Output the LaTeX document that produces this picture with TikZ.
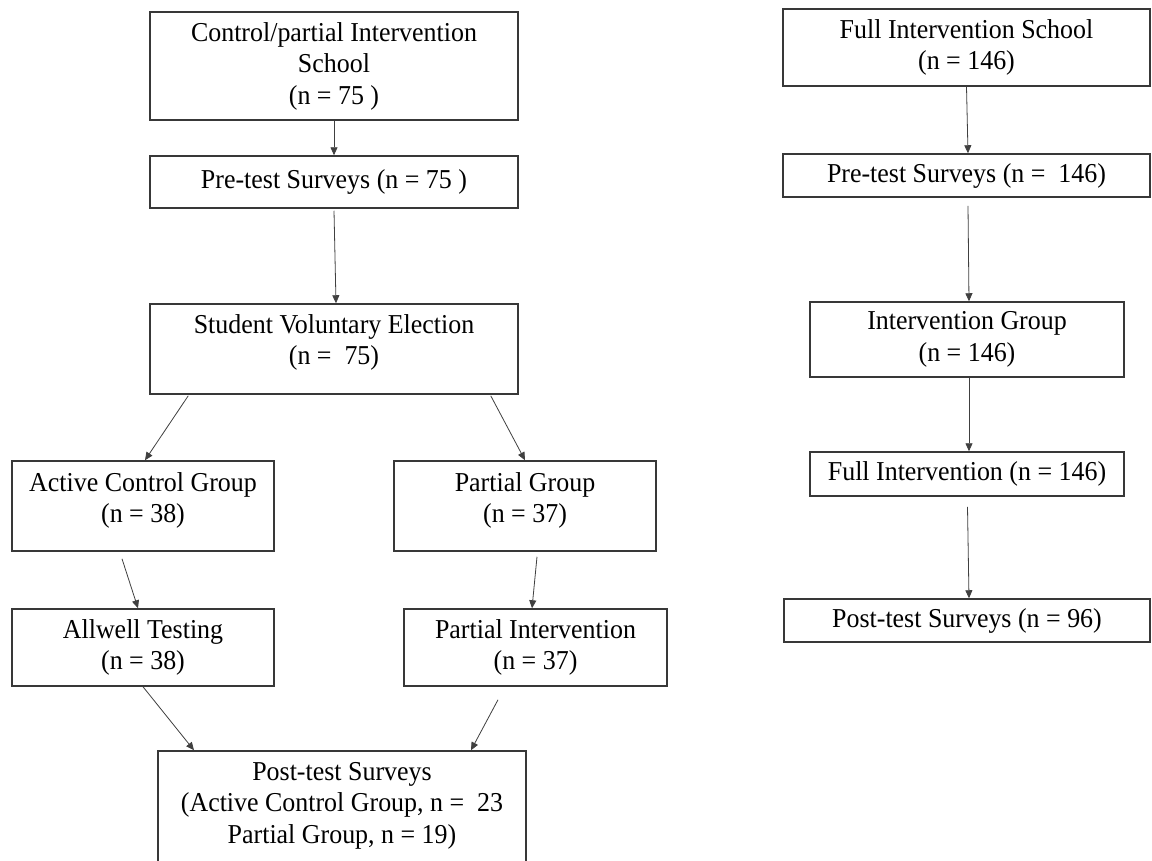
\documentclass[tikz,border=0pt]{standalone}
\usepackage{fontspec}
\setmainfont{Liberation Serif}[FakeStretch=0.95]
\usetikzlibrary{arrows.meta}

% extra depth under the last line pushes a text block upward in its box
\newcommand\dropdepth[1]{\rule[-#1]{0pt}{#1}}

\begin{document}
\begin{tikzpicture}[x=1pt,y=-1pt,
  box/.style={draw=black!78, line width=1.5pt, fill=white, align=center,
    inner sep=0pt, text=black, font=\fontsize{27.3}{31.5}\selectfont},
  arr/.style={draw=black!75, line width=0.8pt,
    -{Triangle[length=8pt,width=7pt]}}]

\fill[white] (0,0) rectangle (1152,860);
\clip (0,0) rectangle (1152,860);

% left branch: control / partial intervention school
\node[box, minimum width=368pt, minimum height=108pt] (b1) at (334,66)
  {Control/partial Intervention\\School\\(n = 75 )};
\node[box, minimum width=368pt, minimum height=52pt] (b2) at (334,182)
  {Pre-test Surveys (n = 75 )};
\node[box, minimum width=368pt, minimum height=90pt] (b3) at (334,349)
  {Student Voluntary Election\\(n =~ 75)\dropdepth{19pt}};
\node[box, minimum width=262pt, minimum height=90pt] (b4) at (143,506)
  {Active Control Group\\(n = 38)\dropdepth{17pt}};
\node[box, minimum width=262pt, minimum height=90pt] (b5) at (525,506)
  {Partial Group\\(n = 37)\dropdepth{17pt}};
\node[box, minimum width=262pt, minimum height=77pt] (b6) at (143,647.5)
  {Allwell Testing\\(n = 38)};
\node[box, minimum width=263pt, minimum height=77pt] (b7) at (535.5,647.5)
  {Partial Intervention\\(n = 37)};
\node[box, minimum width=368pt, minimum height=114pt] (b8) at (342,808)
  {Post-test Surveys\\(Active Control Group, n =~ 23\\Partial Group, n = 19)\dropdepth{11pt}};

% right branch: full intervention school
\node[box, minimum width=367pt, minimum height=77pt] (r1) at (966.5,47.5)
  {Full Intervention School\\(n = 146)};
\node[box, minimum width=367pt, minimum height=43pt] (r2) at (966.5,175.5)
  {Pre-test Surveys (n =~ 146)};
\node[box, minimum width=314pt, minimum height=75pt] (r3) at (967,339.5)
  {Intervention Group\\(n = 146)};
\node[box, minimum width=314pt, minimum height=44pt] (r4) at (967,474)
  {Full Intervention (n = 146)};
\node[box, minimum width=366pt, minimum height=43pt] (r5) at (967,620.5)
  {Post-test Surveys (n = 96)};

% connectors, left branch
\draw[arr] (b1.south) -- (b2.north);
\draw[arr] ([yshift=-2pt]b2.south) -- ([xshift=2pt]b3.north);
\draw[arr] ([xshift=39pt,yshift=-1pt]b3.south west) -- ([xshift=2pt]b4.north);
\draw[arr] ([xshift=-28pt,yshift=-1pt]b3.south east) -- (b5.north);
\draw[arr] ([xshift=-21pt,yshift=-7pt]b4.south) -- ([xshift=-5pt]b6.north);
\draw[arr] ([xshift=12pt,yshift=-5pt]b5.south) -- ([xshift=-3.5pt]b7.north);
\draw[arr] (b6.south) -- ([xshift=-148pt]b8.north);
\draw[arr] ([xshift=-37.5pt,yshift=-13pt]b7.south) -- ([xshift=129pt]b8.north);

% connectors, right branch
\draw[arr] (r1.south) -- ([xshift=1.5pt]r2.north);
\draw[arr] ([xshift=1.5pt,yshift=-8pt]r2.south) -- ([xshift=2pt]r3.north);
\draw[arr] ([xshift=2pt]r3.south) -- ([xshift=2pt]r4.north);
\draw[arr] ([xshift=0.5pt,yshift=-10pt]r4.south) -- ([xshift=2pt]r5.north);
\end{tikzpicture}
\end{document}
